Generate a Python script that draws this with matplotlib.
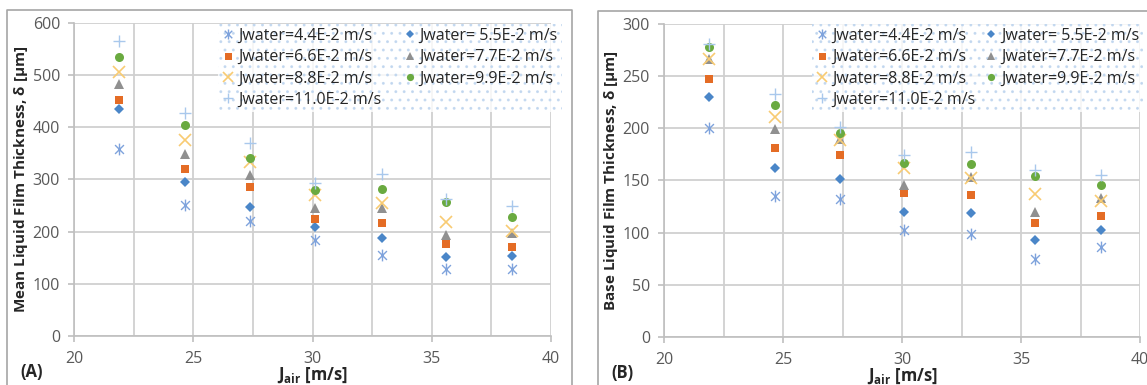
"""
Mean and base liquid film thickness vs superficial air velocity
"""
import numpy as np
import matplotlib.pyplot as plt
from matplotlib.path import Path
from matplotlib.lines import Line2D

plt.rcParams['font.family'] = ['Open Sans', 'DejaVu Sans']
plt.rcParams['mathtext.fontset'] = 'custom'
plt.rcParams['mathtext.rm'] = 'Open Sans'
plt.rcParams['mathtext.bf'] = 'Open Sans:bold'
plt.rcParams['hatch.linewidth'] = 0.9

j_air = [21.9, 24.65, 27.4, 30.1, 32.9, 35.6, 38.35]
j_water_labels = ['Jwater=4.4E-2 m/s', 'Jwater= 5.5E-2 m/s', 'Jwater=6.6E-2 m/s',
                  'Jwater=7.7E-2 m/s', 'Jwater=8.8E-2 m/s', 'Jwater=9.9E-2 m/s',
                  'Jwater=11.0E-2 m/s']

# mean film thickness [um], one list per water velocity
mean_44 = [359, 251, 220, 184, 155, 128, 129]
mean_55 = [435, 295, 247, 209, 188, 151, 154]
mean_66 = [452, 320, 285, 225, 217, 177, 171]
mean_77 = [483, 348, 309, 246, 245, 194, 197]
mean_88 = [507, 376, 333, 271, 254, 219, 202]
mean_99 = [534, 404, 342, 280, 281, 256, 229]
mean_110 = [566, 428, 370, 294, 311, 262, 249]

# base film thickness [um]
base_44 = [200, 135, 132, 103, 99, 75, 86]
base_55 = [230, 162, 151, 120, 119, 93, 103]
base_66 = [247, 181, 174, 138, 136, 109, 116]
base_77 = [266, 199, 190, 146, 153, 120, 133]
base_88 = [266, 211, 189, 162, 152, 137, 130]
base_99 = [278, 222, 196, 167, 166, 154, 146]
base_110 = [281, 233, 201, 174, 177, 160, 155]

mean_all = [mean_44, mean_55, mean_66, mean_77, mean_88, mean_99, mean_110]
base_all = [base_44, base_55, base_66, base_77, base_88, base_99, base_110]

# excel-like star: vertical bar plus an X
star = Path([(0, -1), (0, 1), (-0.75, -0.75), (0.75, 0.75), (-0.75, 0.75), (0.75, -0.75)],
            [Path.MOVETO, Path.LINETO] * 3)

styles = [
    dict(marker=star, color='#7FA3DC', ms=8.5, mew=1.0, filled=False),
    dict(marker='D', color='#4A86C8', ms=4.8, mew=0, filled=True),
    dict(marker='s', color='#E46C25', ms=6.3, mew=0, filled=True),
    dict(marker='^', color='#909090', ms=7.0, mew=0, filled=True),
    dict(marker='x', color='#F8CB72', ms=8.0, mew=1.2, filled=False),
    dict(marker='o', color='#6AAA40', ms=6.5, mew=0, filled=True),
    dict(marker='+', color='#A9C8EC', ms=9.0, mew=1.0, filled=False),
]

W, H = 1147, 385
fig = plt.figure(figsize=(W / 100, H / 100), dpi=100)

grid_c = '#D0D0D0'
tick_c = '#595959'
text_c = '#262626'


def panel(rect, data, ymax, ystep, ylabel, tag, legend_xy, colsp):
    ax = fig.add_axes(rect)
    for vals, st in zip(data, styles):
        ax.plot(j_air, vals, ls='none', marker=st['marker'], ms=st['ms'],
                mew=st['mew'], color=st['color'], mec=st['color'],
                mfc=st['color'] if st['filled'] else 'none', zorder=3)
    ax.set_xlim(20, 40)
    ax.set_ylim(0, ymax)
    ax.set_xticks(np.arange(20, 40.1, 5))
    ax.set_xticks(np.arange(22.5, 40, 5), minor=True)
    ax.set_yticks(np.arange(0, ymax + 1, ystep))
    ax.grid(True, which='both', axis='x', color=grid_c, lw=1.3)
    ax.grid(True, which='major', axis='y', color=grid_c, lw=1.3)
    ax.set_axisbelow(True)
    for s in ['left', 'bottom']:
        ax.spines[s].set_color('#BFBFBF')
        ax.spines[s].set_linewidth(1.2)
    for s in ['top', 'right']:
        ax.spines[s].set_visible(False)
    ax.tick_params(axis='both', which='major', length=4, width=1.2, color='#BFBFBF',
                   labelcolor=tick_c, labelsize=11.5, pad=6)
    ax.tick_params(axis='x', which='minor', length=0)
    ax.tick_params(axis='x', pad=7)
    ax.set_ylabel(ylabel, fontsize=11, fontweight='bold', color=text_c, labelpad=2)
    ax.set_xlabel(r'J$_{\mathbf{air}}$ [m/s]', fontsize=12, fontweight='bold',
                  color=text_c, labelpad=-1)
    ax.text(-0.088, -0.115, tag, transform=ax.transAxes, fontsize=12,
            fontweight='bold', color=text_c, ha='center', va='center')

    order = [0, 2, 4, 6, 1, 3, 5]
    hs = []
    for i in order:
        st = styles[i]
        hs.append(Line2D([], [], ls='none', marker=st['marker'],
                         ms=st['ms'] * (0.85 if not st['filled'] else 0.8),
                         mew=st['mew'], color=st['color'], mec=st['color'],
                         mfc=st['color'] if st['filled'] else 'none'))
    leg = ax.legend(hs, [j_water_labels[i] for i in order], ncol=2,
                    loc='upper left', bbox_to_anchor=legend_xy,
                    bbox_transform=fig.transFigure, frameon=True, fancybox=False,
                    fontsize=11.5, handlelength=0.75, handletextpad=0.25,
                    columnspacing=colsp, labelspacing=0.33, borderpad=0.25,
                    borderaxespad=0)
    fr = leg.get_frame()
    fr.set_facecolor('white')
    fr.set_edgecolor('#BDD4EE')
    fr.set_linewidth(0)
    fr.set_hatch('..')
    for t in leg.get_texts():
        t.set_color(text_c)
    return ax


panel([74 / W, 49 / H, 477 / W, 313 / H], mean_all, 600, 100,
      r'Mean Liquid Film Thickness, $\mathbf{\delta}$ [$\mathbf{\mu}$m]', '(A)',
      (218 / W, 1 - 24 / H), 1.4)
panel([664 / W, 48 / H, 476 / W, 313 / H], base_all, 300, 50,
      r'Base Liquid Film Thickness, $\mathbf{\delta}$ [$\mathbf{\mu}$m]', '(B)',
      (812 / W, 1 - 24 / H), 0.6)

# panel frames
frame_c = '#A6A6A6'
for x0, x1, yt in [(7, 572, 10), (598, 1160, 11)]:
    fig.add_artist(Line2D([x0 / W, x0 / W, x1 / W, x1 / W],
                          [-0.1, 1 - yt / H, 1 - yt / H, -0.1],
                          transform=fig.transFigure, color=frame_c, lw=1.2))

fig.savefig('out.png', dpi=100)
